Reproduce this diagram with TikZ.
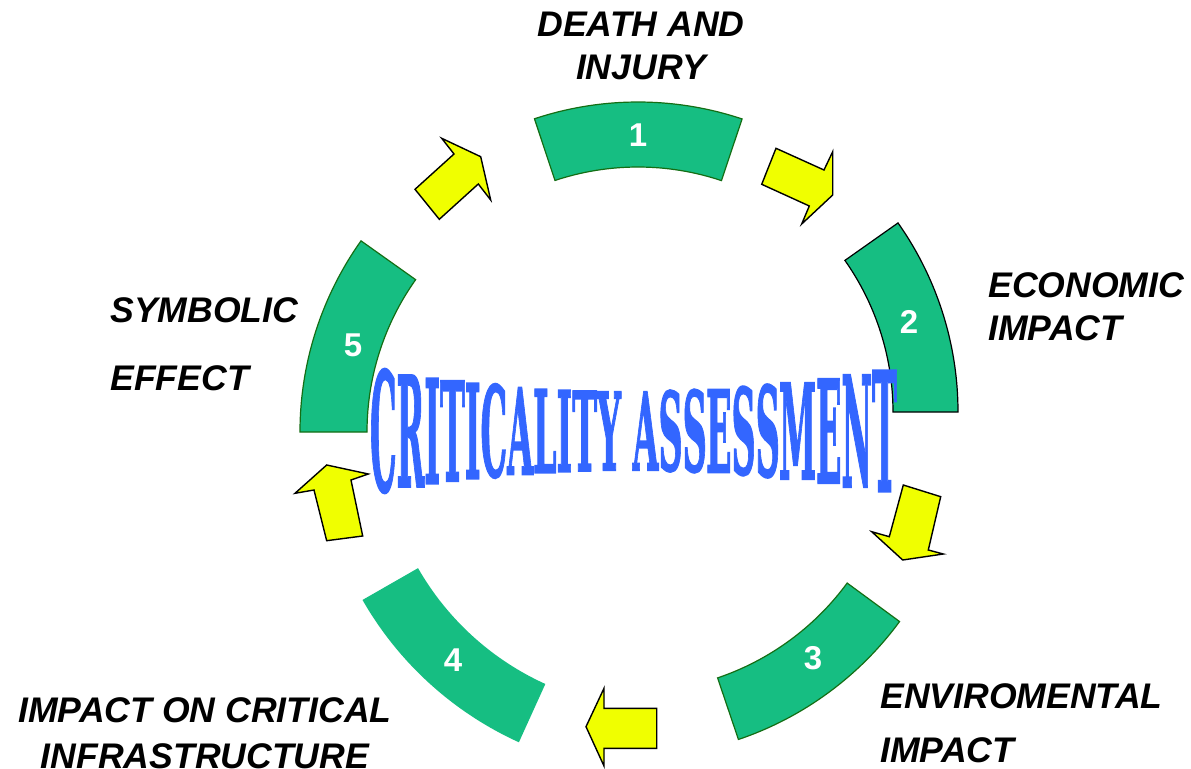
\documentclass[tikz,border=0pt]{standalone}
\usepackage{fontspec}
\setmainfont{Liberation Sans}
\newfontfamily\wafamily{DejaVu Serif}[BoldFeatures={FakeBold=1.8}]
\newcommand\wafnt{\wafamily\bfseries\fontsize{20}{24}\selectfont}
\usetikzlibrary{calc}
\definecolor{segfill}{RGB}{22,190,130}
\definecolor{segdk}{RGB}{20,110,20}
\definecolor{arrfill}{RGB}{240,255,0}
\definecolor{wablue}{RGB}{51,102,255}
\newlength\watot \newlength\wapre \newlength\walet \newlength\wacap
\tikzset{
  seg/.style={fill=segfill, line width=0.6pt},
  arr/.style={fill=arrfill, draw=black, line width=0.7pt, line join=miter},
  num/.style={text=white, font=\bfseries\fontsize{16.5}{18}\selectfont, inner sep=0pt},
  lbl/.style={font=\bfseries\itshape\fontsize{17.8}{21.5}\selectfont, inner sep=0pt, text=black},
  waletter/.style={text=wablue, font=\wafnt, inner sep=0pt, transform shape}
}
\begin{document}
\settowidth\watot{\wafnt CRITICALITY ASSESSMENT}%
\settoheight\wacap{\wafnt H}%
\pgfmathsetmacro\was{527/(2*\watot)}%
\pgfmathsetmacro\wacapu{2*\wacap}%
\foreach \l/\p [count=\i] in {C/{},R/C,I/CR,T/CRI,I/CRIT,C/CRITI,A/CRITIC,L/CRITICA,I/CRITICAL,T/CRITICALI,Y/CRITICALIT,
  A/CRITICALITY{ },S/CRITICALITY A,S/CRITICALITY AS,E/CRITICALITY ASS,S/CRITICALITY ASSE,S/CRITICALITY ASSES,M/CRITICALITY ASSESS,E/CRITICALITY ASSESSM,N/CRITICALITY ASSESSME,T/CRITICALITY ASSESSMEN}{%
  \settowidth\wapre{\wafnt \p}%
  \settowidth\walet{\wafnt \l}%
  \pgfmathsetmacro\cx{370+2*\was*(\wapre+0.5*\walet)}%
  \pgfmathsetmacro\hh{39+23*((\cx-633)/263)^2}%
  \pgfmathsetmacro\ys{2*\hh/\wacapu}%
  \expandafter\xdef\csname wacx\i\endcsname{\cx}%
  \expandafter\xdef\csname ways\i\endcsname{\ys}%
  \expandafter\xdef\csname wal\i\endcsname{\l}%
}%
\begin{tikzpicture}[x=0.5pt,y=0.5pt]
\useasboundingbox (0,0) rectangle (1191,768);
\fill[white] (0,0) rectangle (1191,768);

% ring segments
\path[seg, draw=segdk] (638,338) ++(71.5:328) arc[start angle=71.5,end angle=108.4,radius=328] -- ++(108.4:-65) arc[start angle=108.4,end angle=71.5,radius=263] -- cycle;
\path[seg, draw=black] (630,356) ++(0:328) arc[start angle=0,end angle=35.2,radius=328] -- ++(35.2:-65) arc[start angle=35.2,end angle=0,radius=263] -- cycle;
\path[seg, draw=segdk] (632,343) ++(-71.3:332) arc[start angle=-71.3,end angle=-36.3,radius=332] -- ++(-36.3:-65) arc[start angle=-36.3,end angle=-71.3,radius=267] -- cycle;
\path[seg] (661,339) ++(-150.2:344) arc[start angle=-150.2,end angle=-114.4,radius=344] -- ++(-114.4:-64) arc[start angle=-114.4,end angle=-150.2,radius=280] -- cycle;
\path[seg, draw=segdk] (630,336) ++(144.6:330) arc[start angle=144.6,end angle=180,radius=330] -- ++(180:-67) arc[start angle=180,end angle=144.6,radius=263] -- cycle;

\node[num] (n1) at (638,633) {1};
\node[num] (n2) at (909,446) {2};
\node[num] (n3) at (813,110) {3};
\node[num] (n4) at (453,108) {4};
\node[num] (n5) at (353,423) {5};

% arrows
\draw[arr] (441.7,629.7) -- (480.7,611.3) -- (490.7,568) -- (478.3,584) -- (439.3,548.7) -- (415,578.7) -- (454,614) -- cycle;
\draw[arr] (776,619.7) -- (824,598) -- (832.7,616.3) -- (832.7,573) -- (801.7,544) -- (809.3,562) -- (761.7,583.7) -- cycle;
\draw[arr] (903.3,283) -- (940.7,271.3) -- (928.3,218) -- (943.3,214) -- (902.7,208) -- (871.7,236.3) -- (889.3,231.3) -- cycle;
\draw[arr] (656.7,59.7) -- (604,59.7) -- (604,79.7) -- (586,41.3) -- (604,2) -- (604,19.7) -- (656.7,19.7) -- cycle;
\draw[arr] (326.7,303) -- (368.3,294) -- (351,288) -- (362.7,232) -- (326.7,227.3) -- (314,278) -- (295,274.7) -- cycle;

% labels
\node[lbl, anchor=north, align=center] (l1) at (641,756) {DEATH AND\\INJURY};
\node[lbl, anchor=north west, align=left] (l2) at (988,496) {ECONOMIC\\IMPACT};
\node[lbl, anchor=north west, align=left] (l5) at (110,471) {SYMBOLIC\\[12.5pt]EFFECT};
\node[lbl, anchor=north west, align=left] (l3) at (880,85) {ENVIROMENTAL\\[5.5pt]IMPACT};
\node[lbl, anchor=north, align=center] (l4) at (205,71) {IMPACT ON CRITICAL\\[1.5pt]INFRASTRUCTURE};

% word art
\foreach \i in {1,...,21}{
  \node[waletter, xscale=\was, yscale=\csname ways\i\endcsname] (wa\i) at (\csname wacx\i\endcsname,337) {\csname wal\i\endcsname};
}
\end{tikzpicture}
\end{document}
